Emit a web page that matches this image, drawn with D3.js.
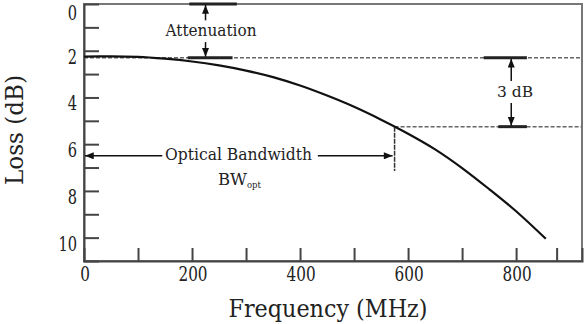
<!DOCTYPE html>
<html>
<head>
<meta charset="utf-8">
<script src="https://cdn.jsdelivr.net/npm/d3@7"></script>
<style>
  body { margin: 0; background: #fff; }
  text { font-family: "DejaVu Serif", serif; fill: #222; }
</style>
</head>
<body>
<svg id="chart" width="584" height="324"></svg>
<script>
// ---- data ----
const freqMHz = [0, 50, 100, 150, 200, 250, 300, 350, 400, 450, 500, 550, 600, 650, 700, 750, 800, 855];
const lossDB  = [2.25, 2.24, 2.26, 2.34, 2.46, 2.63, 2.85, 3.13, 3.49, 3.92, 4.40, 4.95, 5.55, 6.22, 7.02, 7.92, 8.87, 10.05];
const xTickValues = [100, 200, 300, 400, 500, 600, 700, 800, 875];
const xTickLabels = [0, 200, 400, 600, 800];
const yTickValues = [1, 2, 3, 4, 5, 6, 7, 8, 9, 10];
const yTickLabels = [0, 2, 4, 6, 8, 10];
const attenuationDB = 2.3;
const bwLevelDB = 5.25;
const bwFreq = 575;
const xTitle = "Frequency (MHz)";
const yTitle = "Loss (dB)";

// ---- layout ----
const svg = d3.select("#chart");
const L = 84, R = 582, T = 4, B = 261;
const x = d3.scaleLinear().domain([0, 922]).range([L, R]);
const y = d3.scaleLinear().domain([0, 11]).range([T, B]);

svg.append("defs").append("marker")
  .attr("id", "ah").attr("viewBox", "0 0 10 8").attr("refX", 10).attr("refY", 4)
  .attr("markerWidth", 10).attr("markerHeight", 7).attr("markerUnits", "userSpaceOnUse")
  .attr("orient", "auto")
  .append("path").attr("d", "M0,0 L10,4 L0,8 Z").attr("fill", "#111");

function label(px, py, str, size, anchor, len) {
  const t = svg.append("text")
    .attr("x", px).attr("y", py)
    .attr("text-anchor", anchor)
    .style("font-size", size + "px")
    .text(str);
  if (len) t.attr("textLength", len).attr("lengthAdjust", "spacingAndGlyphs");
  return t;
}

// frame
svg.append("rect").attr("x", L).attr("y", T).attr("width", R - L).attr("height", B - T)
  .attr("fill", "none").attr("stroke", "#777").attr("stroke-width", 2);

// axes (ticks inside)
const xAxis = d3.axisBottom(x).tickValues(xTickValues).tickSize(-13).tickFormat("");
svg.append("g").attr("transform", `translate(0,${B})`).call(xAxis)
  .call(g => g.select(".domain").attr("stroke", "#444").attr("stroke-width", 2))
  .call(g => g.selectAll(".tick line").attr("stroke", "#444").attr("stroke-width", 2));
const yAxis = d3.axisLeft(y).tickValues(yTickValues).tickSize(-15).tickFormat("");
svg.append("g").attr("transform", `translate(${L},0)`).call(yAxis)
  .call(g => g.select(".domain").attr("stroke", "#444").attr("stroke-width", 2))
  .call(g => g.selectAll(".tick line").attr("stroke", "#444").attr("stroke-width", 2));

// tick labels
xTickLabels.forEach(v => {
  const s = String(v);
  label(x(v) + 1, 281, s, 20, "middle", s.length * 9.7);
});
yTickLabels.forEach(v => {
  const s = String(v);
  label(77, Math.max(y(v) + 13, 20), s, 20, "end", s.length * 9.3);
});

// titles
label((L + R) / 2 - 5, 317, xTitle, 24, "middle", 199);
svg.append("text")
  .attr("transform", `translate(23,${130}) rotate(-90)`)
  .attr("text-anchor", "middle")
  .style("font-size", "24px")
  .attr("textLength", 110).attr("lengthAdjust", "spacingAndGlyphs")
  .text(yTitle);

// dashed reference lines
const dash = { stroke: "#666", w: 1.5, d: "4,2" };
svg.append("line").attr("x1", L).attr("x2", R).attr("y1", y(attenuationDB)).attr("y2", y(attenuationDB))
  .attr("stroke", dash.stroke).attr("stroke-width", dash.w).attr("stroke-dasharray", dash.d);
svg.append("line").attr("x1", x(bwFreq)).attr("x2", R).attr("y1", y(bwLevelDB)).attr("y2", y(bwLevelDB))
  .attr("stroke", dash.stroke).attr("stroke-width", dash.w).attr("stroke-dasharray", dash.d);
svg.append("line").attr("x1", x(bwFreq)).attr("x2", x(bwFreq)).attr("y1", y(bwLevelDB)).attr("y2", y(7.15))
  .attr("stroke", "#333").attr("stroke-width", 1.5).attr("stroke-dasharray", "5,1");

// thick marker segments
function seg(f1, f2, v) {
  svg.append("line").attr("x1", x(f1)).attr("x2", x(f2)).attr("y1", y(v)).attr("y2", y(v))
    .attr("stroke", "#222").attr("stroke-width", 3);
}
seg(195, 283, 0);
seg(192, 275, attenuationDB);
seg(740, 820, attenuationDB);
seg(767, 820, bwLevelDB);

// curve
const pts = freqMHz.map((f, i) => [f, lossDB[i]]);
svg.append("path").datum(pts)
  .attr("fill", "none").attr("stroke", "#111").attr("stroke-width", 2.2)
  .attr("d", d3.line().x(d => x(d[0])).y(d => y(d[1])).curve(d3.curveMonotoneX));

// arrows
function arrow(x1, y1, x2, y2) {
  svg.append("line").attr("x1", x1).attr("y1", y1).attr("x2", x2).attr("y2", y2)
    .attr("stroke", "#111").attr("stroke-width", 1.5).attr("marker-end", "url(#ah)");
}
const ax = x(225);
arrow(ax, y(0.7), ax, y(0) + 1);
arrow(ax, y(1.63), ax, y(attenuationDB) - 1);
label(211, 36, "Attenuation", 17, "middle", 91);

const bx = x(791);
arrow(bx, y(3.3), bx, y(attenuationDB) + 1);
arrow(bx, y(4.24), bx, y(bwLevelDB) - 1);
label(515, 97, "3 dB", 15, "middle", 36);

const oy = y(6.5);
arrow(x(145), oy, L + 1, oy);
arrow(x(433), oy, x(bwFreq) - 2, oy);
label(238.5, 160, "Optical Bandwidth", 16, "middle", 147);
label(218, 185, "BW", 16, "start", 29);
label(247, 188, "opt", 10, "start", 14);
</script>
</body>
</html>
